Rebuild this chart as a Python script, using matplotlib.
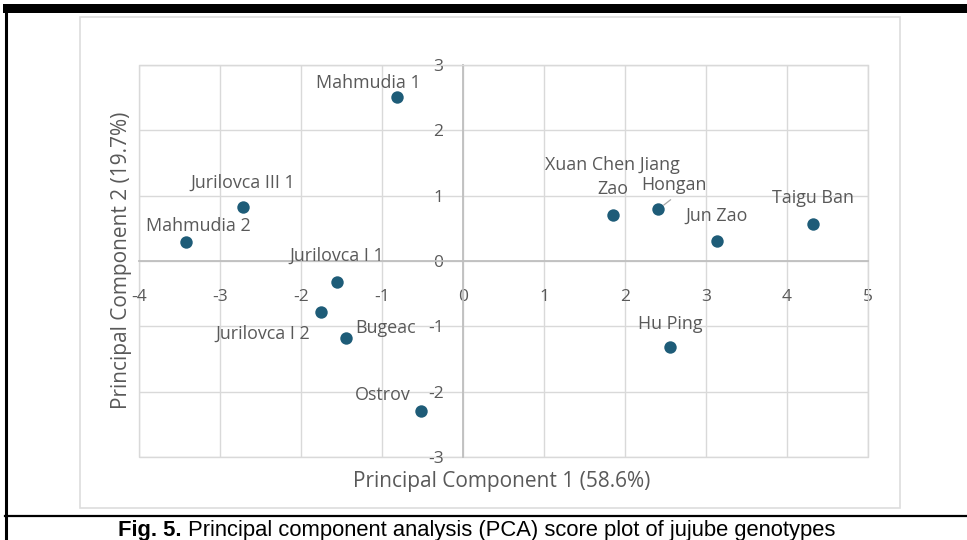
import matplotlib
matplotlib.use("Agg")
import matplotlib.pyplot as plt
from matplotlib.lines import Line2D
from matplotlib.patches import Rectangle

# PCA scores
genotypes = ["Mahmudia 1", "Jurilovca III 1", "Mahmudia 2", "Jurilovca I 1",
             "Jurilovca I 2", "Bugeac", "Ostrov", "Xuan Chen Jiang\nZao",
             "Hongan", "Jun Zao", "Taigu Ban", "Hu Ping"]
pc1 = [-0.81, -2.72, -3.42, -1.56, -1.75, -1.45, -0.52, 1.85, 2.41, 3.13, 4.32, 2.56]
pc2 = [2.51, 0.82, 0.29, -0.32, -0.78, -1.18, -2.30, 0.70, 0.79, 0.30, 0.57, -1.31]
x_ticks = [-4, -3, -2, -1, 0, 1, 2, 3, 4, 5]
y_ticks = [-3, -2, -1, 0, 1, 2, 3]

# label offsets in pixels (dx, dy) of the last label line, relative to each point
label_offsets = [(-29, 14), (0, 25), (12, 16), (0, 26), (-58, -22), (40, 10),
                 (-38, 16), (0, 26), (16, 24), (0, 26), (0, 26), (0, 23)]
line_step = 24

W, H = 967, 540
plt.rcParams['font.family'] = ['Open Sans', 'DejaVu Sans']
plt.rcParams['axes.unicode_minus'] = False
fig = plt.figure(figsize=(W / 100, H / 100), dpi=100)

txt = '#595959'
grid_c = '#D9D9D9'
dot_c = '#1E5C78'
lab_fs = 12.9

# chart area border (light grey box)
fig.add_artist(Rectangle((80 / W, 1 - 508 / H), 820 / W, 491 / H, transform=fig.transFigure,
                         fill=False, edgecolor='#DDDDDD', linewidth=1.2))

ax = fig.add_axes([139 / W, 1 - 457 / H, 729 / W, 392 / H])
ax.set_xlim(x_ticks[0], x_ticks[-1])
ax.set_ylim(y_ticks[0], y_ticks[-1])
ax.set_xticks(x_ticks)
ax.set_yticks(y_ticks)
ax.grid(True, color=grid_c, linewidth=1.0)
ax.set_axisbelow(True)

for s in ['top', 'right']:
    ax.spines[s].set_color(grid_c)
ax.spines['left'].set_position(('data', 0))
ax.spines['bottom'].set_position(('data', 0))
ax.spines['left'].set_color('#BFBFBF')
ax.spines['bottom'].set_color('#BFBFBF')
ax.spines['left'].set_linewidth(1.3)
ax.spines['bottom'].set_linewidth(1.3)
ax.add_patch(Rectangle((0, 0), 1, 1, transform=ax.transAxes, fill=False,
                       edgecolor=grid_c, linewidth=1.0, clip_on=False, zorder=0))

ax.tick_params(axis='x', length=0, pad=20, labelsize=12.5, labelcolor=txt)
ax.tick_params(axis='y', length=0, pad=14, labelsize=12.5, labelcolor=txt)

ax.scatter(pc1, pc2, s=80, color=dot_c, zorder=3, linewidths=0)

for name, x, y, (dx, dy) in zip(genotypes, pc1, pc2, label_offsets):
    if name == "Hongan":
        ax.annotate(name, (x, y), xytext=(dx, dy), textcoords='offset pixels',
                    ha='center', va='center', fontsize=lab_fs, color=txt,
                    arrowprops=dict(arrowstyle='-', color='#A6A6A6', lw=0.9,
                                    relpos=(0.55, 0), shrinkA=3, shrinkB=5))
        continue
    # multi-line labels are written line by line, like Excel wraps them
    lines = name.split("\n")
    for i, part in enumerate(lines):
        ax.annotate(part, (x, y), xytext=(dx, dy + (len(lines) - 1 - i) * line_step),
                    textcoords='offset pixels', ha='center', va='center',
                    fontsize=lab_fs, color=txt)

fig.text(502 / W, 1 - 482 / H, "Principal Component 1 (58.6%)", ha='center', va='center',
         fontsize=15, color=txt)
fig.text(122 / W, 1 - 260 / H, "Principal Component 2 (19.7%)", ha='center', va='center',
         rotation=90, fontsize=15, color=txt)

# black frame of the figure box
fig.add_artist(Rectangle((3 / W, 1 - 12.7 / H), 964 / W, 8.7 / H, transform=fig.transFigure,
                         color='black', linewidth=0))
fig.add_artist(Line2D([5.5 / W, 5.5 / W], [0, 1 - 8 / H], transform=fig.transFigure,
                      color='black', linewidth=2.2))
fig.add_artist(Line2D([5 / W, 1], [1 - 515.5 / H, 1 - 515.5 / H], transform=fig.transFigure,
                      color='black', linewidth=1.6))

# caption
cap = fig.text(118 / W, 1 - 536 / H, "Fig. 5.", ha='left', va='baseline',
               fontsize=15.8, fontweight='bold', family='Liberation Sans')
ax.annotate(" Principal component analysis (PCA) score plot of jujube genotypes",
            xy=(1, 0), xycoords=cap, ha='left', va='bottom', fontsize=15.8,
            family='Liberation Sans', annotation_clip=False)

fig.savefig("out.png", dpi=100)
